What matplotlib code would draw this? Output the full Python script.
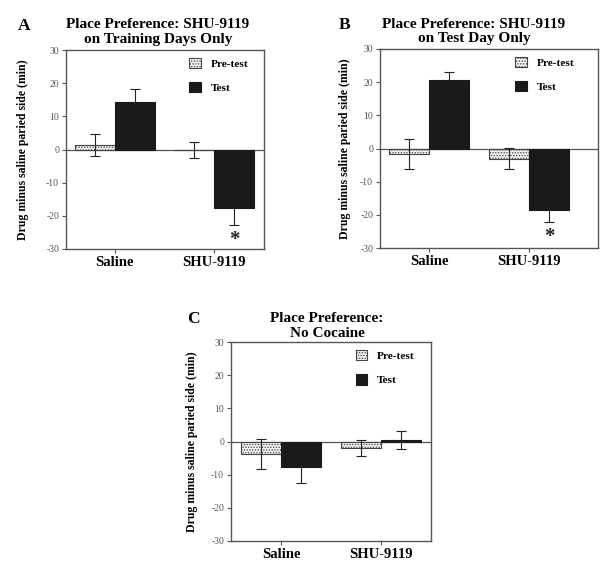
import matplotlib
matplotlib.use("Agg")
import matplotlib.pyplot as plt
import numpy as np

plt.rcParams['font.family'] = ['Liberation Serif', 'DejaVu Serif']
plt.rcParams['hatch.color'] = '#8a8a8a'
plt.rcParams['hatch.linewidth'] = 0.6

groups = ["Saline", "SHU-9119"]
series = ["Pre-test", "Test"]

# Panel A: SHU-9119 on training days only
a_pre = [1.4, -0.2]
a_pre_err = [3.3, 2.4]
a_test = [14.3, -17.7]
a_test_err = [4.0, 5.2]

# Panel B: SHU-9119 on test day only
b_pre = [-1.7, -3.1]
b_pre_err = [4.5, 3.2]
b_test = [20.8, -18.4]
b_test_err = [2.3, 3.9]

# Panel C: no cocaine
c_pre = [-3.7, -1.9]
c_pre_err = [4.5, 2.5]
c_test = [-7.7, 0.5]
c_test_err = [5.0, 2.7]

yticks = [-30, -20, -10, 0, 10, 20, 30]
ylabel = "Drug minus saline paried side (min)"

panels = [
    dict(letter="A", title="Place Preference: SHU-9119\non Training Days Only",
         pre=a_pre, pre_err=a_pre_err, test=a_test, test_err=a_test_err,
         star=True, rect=[66/600, 1-249/572, 198/600, 199/572], xlim=(-0.49, 1.5),
         letter_xy=(24/600, 1-26/572), title_x=158/600, title_y=1-18.5/572, ylab_x=23/600),
    dict(letter="B", title="Place Preference: SHU-9119\non Test Day Only",
         pre=b_pre, pre_err=b_pre_err, test=b_test, test_err=b_test_err,
         star=True, rect=[380/600, 1-248/572, 218/600, 199/572], xlim=(-0.49, 1.69),
         letter_xy=(345/600, 1-25/572), title_x=474/600, title_y=1-17.5/572, ylab_x=345/600),
    dict(letter="C", title="Place Preference:\nNo Cocaine",
         pre=c_pre, pre_err=c_pre_err, test=c_test, test_err=c_test_err,
         star=False, rect=[231/600, 1-540.7/572, 200/600, 198.4/572], xlim=(-0.5, 1.5),
         letter_xy=(193/600, 1-319/572), title_x=327/600, title_y=1-312.5/572, ylab_x=192/600),
]

fig = plt.figure(figsize=(6, 5.72), dpi=100)
fig.patch.set_facecolor('white')

w = 0.4
x = np.arange(len(groups))
for p in panels:
    ax = fig.add_axes(p["rect"])
    ax.errorbar(x + w/2, p["test"], yerr=p["test_err"], fmt='none', ecolor='#222222',
                elinewidth=0.8, capsize=3.5, capthick=0.8, zorder=1.5)
    b1 = ax.bar(x - w/2, p["pre"], w, facecolor='#f0f0f0', edgecolor='#444444',
                linewidth=0.8, hatch='......', label=series[0], zorder=2)
    b2 = ax.bar(x + w/2, p["test"], w, facecolor='#1a1a1a', edgecolor='#1a1a1a',
                linewidth=0.8, label=series[1], zorder=2)
    ax.errorbar(x - w/2, p["pre"], yerr=p["pre_err"], fmt='none', ecolor='#222222',
                elinewidth=0.8, capsize=3.5, capthick=0.8, zorder=3)
    ax.axhline(0, color='#555555', linewidth=0.9, zorder=1)
    if p["star"]:
        ax.text(1 + w/2, p["test"][1] - p["test_err"][1] - 1.5, "*", ha='center',
                va='top', fontsize=15, fontweight='bold', color='#222222')
    ax.set_ylim(-30, 30)
    ax.set_xlim(*p["xlim"])
    ax.set_yticks(yticks)
    ax.set_yticklabels([str(t) for t in yticks], fontsize=7, color='#555555')
    ax.set_xticks(x)
    ax.set_xticklabels(groups, fontsize=10.5, fontweight='bold')
    ax.tick_params(axis='y', direction='out', length=3, width=0.8, color='#555555', pad=2)
    ax.tick_params(axis='x', direction='out', length=3, width=0.8, color='#555555', pad=2)
    for s in ax.spines.values():
        s.set_color('#555555')
        s.set_linewidth(1.0)
    leg = ax.legend(handles=[b1, b2], loc='upper left', bbox_to_anchor=(0.6, 0.985),
                    frameon=False, fontsize=8.2, handlelength=1.0, handleheight=1.0,
                    labelspacing=1.2, handletextpad=0.9, borderaxespad=0)
    for t in leg.get_texts():
        t.set_fontweight('bold')
    fig.text(p["ylab_x"], p["rect"][1] + p["rect"][3]/2, ylabel, rotation=90,
             ha='center', va='center', fontsize=8.5, fontweight='bold')
    fig.text(p["title_x"], p["title_y"], p["title"], ha='center', va='top',
             fontsize=11, fontweight='bold', linespacing=1.12)
    fig.text(p["letter_xy"][0], p["letter_xy"][1], p["letter"], ha='center',
             va='center', fontsize=12.5, fontweight='bold')

fig.savefig("out.png", dpi=100, facecolor='white')
